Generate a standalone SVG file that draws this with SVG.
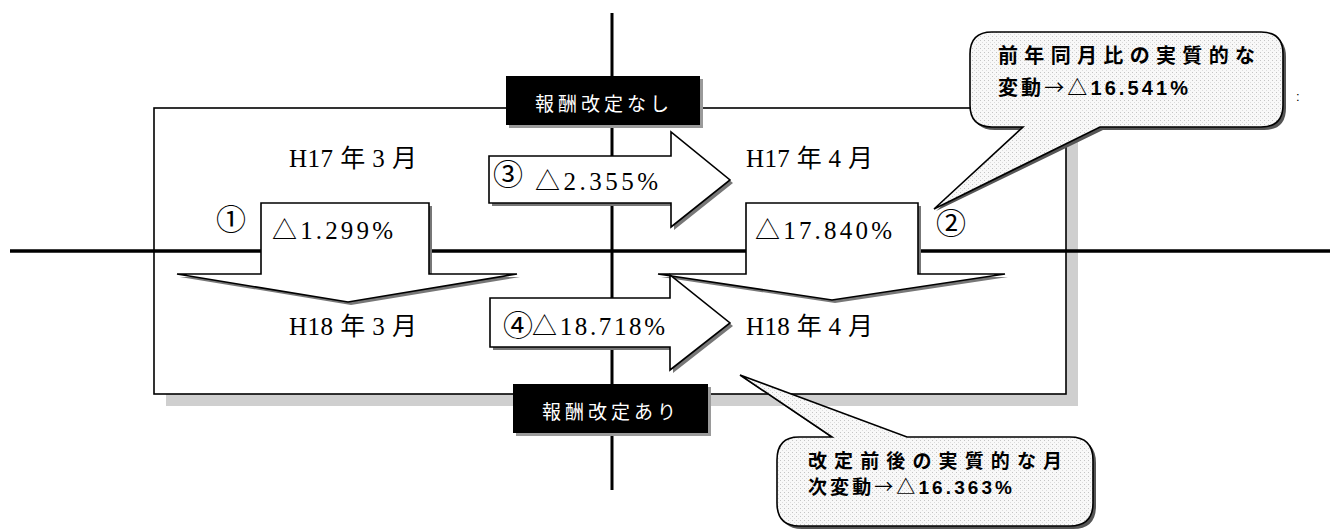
<svg xmlns="http://www.w3.org/2000/svg" width="1337" height="530" viewBox="0 0 1337 530">
<defs>
<pattern id="dots" width="4" height="4" patternUnits="userSpaceOnUse">
<rect width="4" height="4" fill="#f8f8f8"/>
<rect x="0" y="0" width="1" height="1" fill="#c4c4c4"/>
<rect x="2" y="2" width="1" height="1" fill="#dcdcdc"/>
</pattern>
<style>
.ln{stroke:#000;fill:none}
.arrow{fill:#fff;stroke:#000;stroke-width:1.6;stroke-linejoin:miter}
.ashadow{fill:#777;stroke:none}
.lbl{font-family:"Liberation Serif","Noto Sans CJK JP",serif;font-size:25px;fill:#000}
.num{font-family:"Noto Sans CJK JP","DejaVu Sans",sans-serif;font-size:30px;fill:#000;text-anchor:middle}
.box{fill:#000}
.bshadow{fill:#9a9a9a}
.boxtxt{font-family:"Noto Sans CJK JP",sans-serif;font-size:19px;fill:#fff;text-anchor:middle;letter-spacing:4px}
.call{fill:url(#dots);stroke:#000;stroke-width:1.6}
.cshadow{fill:#555}
.ctxt{font-family:"Liberation Sans","Noto Sans CJK JP",sans-serif;font-size:20px;font-weight:bold;fill:#000}
.c2{font-size:19px}
.jp{font-family:"Noto Sans CJK JP",sans-serif;font-weight:normal}
</style>
</defs>
<rect width="1337" height="530" fill="#fff"/>

<g id="frame">
<rect x="166" y="120" width="912" height="286" fill="#cfcfcf"/>
<rect x="154" y="108" width="912" height="286" fill="#fff" stroke="#000" stroke-width="1.6"/>
</g>

<g id="connectors">
<line class="ln" x1="10" y1="251" x2="1330" y2="251" stroke-width="3.5"/>
<line class="ln" x1="612" y1="13" x2="612" y2="490" stroke-width="3"/>
</g>

<g id="arrow1">
<polygon class="ashadow" points="264,206 432,206 432,277 520,277 351,305 180,277 264,277"/>
<polygon class="arrow" points="261,203 429,203 429,274 517,274 348,302 177,274 261,274"/>
<text class="num" x="231" y="230">①</text>
<text class="lbl" x="272" y="239" textLength="121" lengthAdjust="spacing">△1.299%</text>
</g>

<g id="arrow2">
<polygon class="ashadow" points="749,206 921,206 921,277 1008,277 835,303 661,277 749,277"/>
<polygon class="arrow" points="746,203 918,203 918,274 1005,274 832,300 658,274 746,274"/>
<text class="lbl" x="755" y="239" textLength="137" lengthAdjust="spacing">△17.840%</text>
<text class="num" x="951" y="234">②</text>
</g>

<g id="arrow3">
<polygon class="ashadow" points="492,159 674,159 674,135 733,183 674,230 674,206 492,206"/>
<polygon class="arrow" points="489,156 671,156 671,132 730,180 671,227 671,203 489,203"/>
<text class="num" x="508" y="185">③</text>
<text class="lbl" x="535" y="190" textLength="123" lengthAdjust="spacing">△2.355%</text>
</g>

<g id="arrow4">
<polygon class="ashadow" points="493,301 673,301 673,278 733,326 673,373 673,350 493,350"/>
<polygon class="arrow" points="490,298 670,298 670,275 730,323 670,370 670,347 490,347"/>
<text class="num" x="518" y="336">④</text>
<text class="lbl" x="532" y="335" textLength="133" lengthAdjust="spacing">△18.718%</text>
</g>

<g id="h17-3"><text class="lbl" x="289" y="167" textLength="128" lengthAdjust="spacing">H17 年 3 月</text></g>
<g id="h18-3"><text class="lbl" x="289" y="335" textLength="128" lengthAdjust="spacing">H18 年 3 月</text></g>
<g id="h17-4"><text class="lbl" x="746" y="167" textLength="127" lengthAdjust="spacing">H17 年 4 月</text></g>
<g id="h18-4"><text class="lbl" x="746" y="335" textLength="127" lengthAdjust="spacing">H18 年 4 月</text></g>

<g id="label-top">
<rect class="bshadow" x="509" y="79" width="194" height="49"/>
<rect class="box" x="506" y="76" width="194" height="49"/>
<text class="boxtxt" x="604" y="111">報酬改定なし</text>
</g>

<g id="label-bottom">
<rect class="bshadow" x="516" y="387" width="195" height="49"/>
<rect class="box" x="513" y="384" width="195" height="49"/>
<text class="boxtxt" x="611" y="419">報酬改定あり</text>
</g>

<g id="callout1">
<path class="cshadow" d="M 995 35 H 1264 Q 1286 35 1286 57 V 108 Q 1286 130 1264 130 H 1103 L 936 211 L 1026 130 H 995 Q 973 130 973 108 V 57 Q 973 35 995 35 Z"/>
<path class="call" d="M 992 32 H 1261 Q 1283 32 1283 54 V 105 Q 1283 127 1261 127 H 1100 L 934 209 L 1023 127 H 992 Q 970 127 970 105 V 54 Q 970 32 992 32 Z"/>
<text class="ctxt" x="998" y="63" textLength="257" lengthAdjust="spacing">前年同月比の実質的な</text>
<text class="ctxt" x="998" y="95" textLength="190" lengthAdjust="spacing">変動<tspan class="jp">→</tspan><tspan font-family="Noto Sans CJK JP">△</tspan>16.541%</text>
<text x="1296" y="101" font-family="Liberation Sans,sans-serif" font-size="13" fill="#000">:</text>
</g>

<g id="callout2">
<path class="cshadow" d="M 802 440 H 835 L 742 377 L 910 440 H 1073 Q 1096 440 1096 463 V 506 Q 1096 529 1073 529 H 802 Q 780 529 780 506 V 463 Q 780 440 802 440 Z"/>
<path class="call" d="M 799 437 H 832 L 740 375 L 907 437 H 1070 Q 1093 437 1093 460 V 503 Q 1093 526 1070 526 H 799 Q 777 526 777 503 V 460 Q 777 437 799 437 Z"/>
<text class="ctxt c2" x="808" y="468" textLength="254" lengthAdjust="spacing">改定前後の実質的な月</text>
<text class="ctxt c2" x="808" y="494" textLength="204" lengthAdjust="spacing">次変動<tspan class="jp">→</tspan><tspan font-family="Noto Sans CJK JP">△</tspan>16.363%</text>
</g>
</svg>
